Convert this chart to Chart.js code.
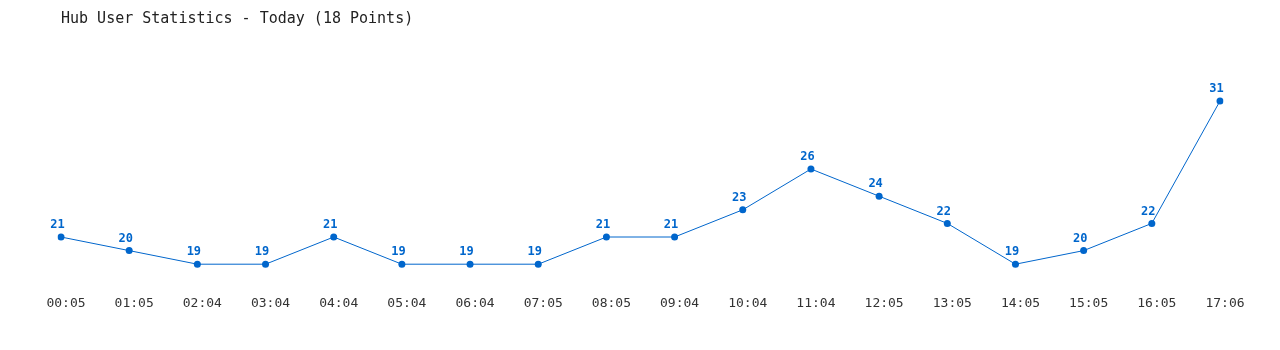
<!DOCTYPE html>
<html>
<head>
<meta charset="utf-8">
<script src="https://cdn.jsdelivr.net/npm/chart.js@4"></script>
<style>
  html, body { margin: 0; padding: 0; background: #fff; }
  #wrap { width: 1280px; height: 350px; }
</style>
</head>
<body>
<div id="wrap"><canvas id="myChart" width="1280" height="350"></canvas></div>
<script>
const labels = ['00:05', '01:05', '02:04', '03:04', '04:04', '05:04', '06:04', '07:05', '08:05',
    '09:04', '10:04', '11:04', '12:05', '13:05', '14:05', '15:05', '16:05', '17:06'];
const users = [21, 20, 19, 19, 21, 19, 19, 19, 21, 21, 23, 26, 24, 22, 19, 20, 22, 31];

const blue = '#0066cc';

// draws the value above every point
const valueLabels = {
    id: 'valueLabels',
    afterDatasetsDraw(chart) {
        const ctx = chart.ctx;
        const meta = chart.getDatasetMeta(0);
        ctx.save();
        ctx.font = 'bold 12px "DejaVu Sans Mono", monospace';
        ctx.fillStyle = blue;
        ctx.textAlign = 'center';
        ctx.textBaseline = 'middle';
        meta.data.forEach(function (pt, i) {
            ctx.fillText(String(users[i]), pt.x - 3.5, pt.y - 12);
        });
        ctx.restore();
    }
};

const data = {
    labels: labels,
    datasets: [{
        label: 'Users',
        data: users,
        borderColor: blue,
        backgroundColor: blue,
        borderWidth: 1,
        pointRadius: 3.5,
        pointHoverRadius: 3.5,
        pointBorderWidth: 0,
        tension: 0
    }]
};

const config = {
    type: 'line',
    data: data,
    plugins: [valueLabels],
    options: {
        responsive: false,
        animation: false,
        layout: { padding: { left: 61, right: 60, top: 0, bottom: 35 } },
        plugins: {
            legend: { display: false },
            tooltip: { enabled: false },
            title: {
                display: true,
                text: 'Hub User Statistics - Today (18 Points)',
                align: 'start',
                color: '#222',
                font: { family: '"DejaVu Sans Mono", monospace', size: 15, weight: 'normal', lineHeight: 1.2 },
                padding: { top: 10, bottom: 45.8 }
            }
        },
        scales: {
            x: {
                offset: false,
                grid: { display: false, drawTicks: false },
                border: { display: false },
                ticks: {
                    color: '#333',
                    padding: 4,
                    labelOffset: 5,
                    maxRotation: 0,
                    autoSkip: false,
                    font: { family: '"DejaVu Sans Mono", monospace', size: 13 }
                }
            },
            y: {
                display: false,
                min: 17,
                max: 33
            }
        }
    }
};

const myChart = new Chart(document.getElementById('myChart'), config);
</script>
</body>
</html>
